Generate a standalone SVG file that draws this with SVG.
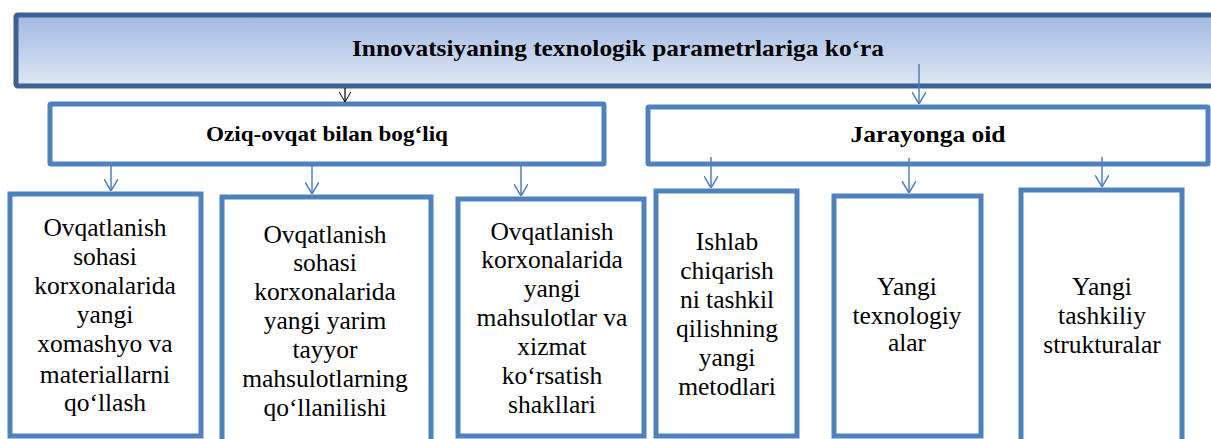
<svg xmlns="http://www.w3.org/2000/svg" width="1211" height="439" viewBox="0 0 1211 439">
<style>
.box{fill:#ffffff;stroke:#4F81BD;stroke-width:5}
.t{font-family:"Liberation Serif",serif;font-size:25.5px;fill:#000;text-anchor:middle}
.b{font-family:"Liberation Serif",serif;font-weight:bold;fill:#000;text-anchor:middle}
.c{stroke:#4F81BD;stroke-width:1.5;fill:none}
</style>
<defs>
<linearGradient id="g" x1="0" y1="0" x2="0" y2="1">
<stop offset="0" stop-color="#A1B9E2"/>
<stop offset="1" stop-color="#DFE7F4"/>
</linearGradient>
<marker id="ah" viewBox="0 0 12 14" refX="12" refY="7" markerWidth="12" markerHeight="14" orient="auto" markerUnits="userSpaceOnUse">
<path d="M0,0 L12,7 L0,14" fill="none" stroke="#4F81BD" stroke-width="1.5"/>
</marker>
<marker id="ahk" viewBox="0 0 12 14" refX="12" refY="7" markerWidth="10" markerHeight="12" orient="auto" markerUnits="userSpaceOnUse">
<path d="M0,0 L12,7 L0,14" fill="none" stroke="#000" stroke-width="1.2"/>
</marker>
</defs>
<rect width="1211" height="439" fill="#ffffff"/>
<g id="top">
<rect x="16" y="15" width="1200" height="71" rx="2" fill="url(#g)" stroke="#3C6192" stroke-width="5"/>
<text class="b" x="618" y="56" font-size="24" textLength="532" lengthAdjust="spacingAndGlyphs">Innovatsiyaning texnologik parametrlariga ko‘ra</text>
</g>
<g id="oziq">
<rect class="box" x="50" y="104" width="554" height="60" rx="1"/>
<text class="b" x="327" y="141" font-size="21" textLength="242" lengthAdjust="spacingAndGlyphs">Oziq-ovqat bilan bog‘liq</text>
</g>
<g id="jarayon">
<rect class="box" x="648" y="107" width="560" height="57" rx="1"/>
<text class="b" x="928" y="142" font-size="24" textLength="155" lengthAdjust="spacingAndGlyphs">Jarayonga oid</text>
</g>
<g id="n1">
<rect class="box" x="10" y="194" width="191" height="242"/>
<text class="t"><tspan x="105" y="236">Ovqatlanish</tspan><tspan x="105" y="265">sohasi</tspan><tspan x="105" y="294">korxonalarida</tspan><tspan x="105" y="323">yangi</tspan><tspan x="105" y="352">xomashyo va</tspan><tspan x="105" y="383">materiallarni</tspan><tspan x="105" y="411">qo‘llash</tspan></text>
</g>
<g id="n2">
<rect class="box" x="222" y="197" width="209" height="250"/>
<text class="t"><tspan x="325" y="243">Ovqatlanish</tspan><tspan x="325" y="271">sohasi</tspan><tspan x="325" y="300">korxonalarida</tspan><tspan x="325" y="329">yangi yarim</tspan><tspan x="325" y="358">tayyor</tspan><tspan x="325" y="387">mahsulotlarning</tspan><tspan x="325" y="416">qo‘llanilishi</tspan></text>
</g>
<g id="n3">
<rect class="box" x="458" y="199" width="186" height="237"/>
<text class="t"><tspan x="552" y="240">Ovqatlanish</tspan><tspan x="552" y="268">korxonalarida</tspan><tspan x="552" y="297">yangi</tspan><tspan x="552" y="326">mahsulotlar va</tspan><tspan x="552" y="355">xizmat</tspan><tspan x="552" y="384">ko‘rsatish</tspan><tspan x="552" y="413">shakllari</tspan></text>
</g>
<g id="n4">
<rect class="box" x="656" y="191" width="141" height="245"/>
<text class="t"><tspan x="727" y="250">Ishlab</tspan><tspan x="727" y="279">chiqarish</tspan><tspan x="727" y="308">ni tashkil</tspan><tspan x="727" y="337">qilishning</tspan><tspan x="727" y="366">yangi</tspan><tspan x="727" y="395">metodlari</tspan></text>
</g>
<g id="n5">
<rect class="box" x="834" y="196" width="147" height="240"/>
<text class="t"><tspan x="907" y="295">Yangi</tspan><tspan x="907" y="324">texnologiy</tspan><tspan x="907" y="351">alar</tspan></text>
</g>
<g id="n6">
<rect class="box" x="1021" y="190" width="161" height="256"/>
<text class="t"><tspan x="1102" y="295">Yangi</tspan><tspan x="1102" y="324">tashkiliy</tspan><tspan x="1102" y="353">strukturalar</tspan></text>
</g>
<g id="connectors">
<line x1="345" y1="88" x2="345" y2="102" stroke="#000" stroke-width="1.2" marker-end="url(#ahk)"/>
<line class="c" x1="919" y1="64" x2="919" y2="104" marker-end="url(#ah)"/>
<line class="c" x1="111" y1="166" x2="111" y2="191" marker-end="url(#ah)"/>
<line class="c" x1="312" y1="166" x2="312" y2="194" marker-end="url(#ah)"/>
<line class="c" x1="521" y1="166" x2="521" y2="196" marker-end="url(#ah)"/>
<line class="c" x1="711" y1="157" x2="711" y2="188" marker-end="url(#ah)"/>
<line class="c" x1="909" y1="158" x2="909" y2="193" marker-end="url(#ah)"/>
<line class="c" x1="1102" y1="157" x2="1102" y2="187" marker-end="url(#ah)"/>
</g>
</svg>
